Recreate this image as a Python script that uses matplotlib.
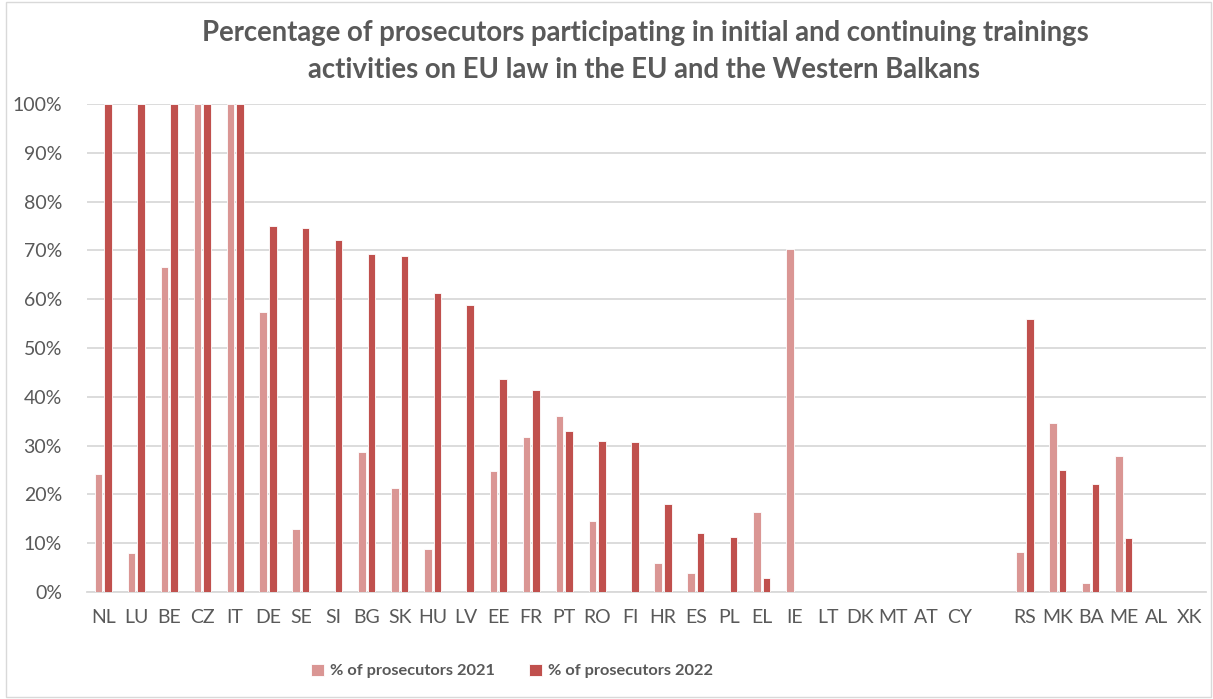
import matplotlib
matplotlib.use("Agg")
import matplotlib.pyplot as plt
import numpy as np
from matplotlib.patches import Rectangle
from matplotlib.ticker import FuncFormatter

categories = ["NL", "LU", "BE", "CZ", "IT", "DE", "SE", "SI", "BG", "SK", "HU", "LV",
              "EE", "FR", "PT", "RO", "FI", "HR", "ES", "PL", "EL", "IE", "LT", "DK",
              "MT", "AT", "CY", "", "RS", "MK", "BA", "ME", "AL", "XK"]
pct_2021 = [24.2, 7.9, 66.7, 100, 100, 57.4, 13.0, 0, 28.6, 21.4, 8.9, 0,
            24.7, 31.8, 36.1, 14.6, 0, 6.0, 3.8, 0, 16.3, 70.2, 0, 0,
            0, 0, 0, 0, 8.1, 34.7, 1.8, 27.9, 0, 0]
pct_2022 = [100, 100, 100, 100, 100, 74.9, 74.6, 72.2, 69.3, 68.9, 61.3, 58.9,
            43.6, 41.3, 32.9, 30.9, 30.7, 18.1, 12.1, 11.3, 2.8, 0, 0, 0,
            0, 0, 0, 0, 55.9, 25.1, 22.2, 11.0, 0, 0]
labels = ["% of prosecutors 2021", "% of prosecutors 2022"]

c21 = "#DA9694"
c22 = "#C0504D"
txt = "#595959"
FONT = "Lato"

fig = plt.figure(figsize=(12.13, 6.99), dpi=100)
ax = fig.add_axes([87/1213, 1-592/699, (1206-87)/1213, (592-104)/699])

x = np.arange(len(categories))
w = 0.23
v21 = np.array(pct_2021) / 100
v22 = np.array(pct_2022) / 100
ax.bar(x - 0.145, v21, width=w, color=c21, edgecolor="white", linewidth=0.6, label=labels[0], zorder=3)
ax.bar(x + 0.145, v22, width=w, color=c22, edgecolor="white", linewidth=0.6, label=labels[1], zorder=3)

ax.set_xlim(-0.5, len(categories) - 0.5)
ax.set_ylim(0, 1.0)
ax.set_yticks(np.arange(0, 1.01, 0.1))
ax.yaxis.set_major_formatter(FuncFormatter(lambda v, p: f"{v*100:.0f}%"))
ax.set_xticks(x)
ax.set_xticklabels(categories)
ax.grid(axis="y", color="#D9D9D9", linewidth=1.3, zorder=0)
for s in ["top", "right", "left"]:
    ax.spines[s].set_visible(False)
ax.spines["bottom"].set_color("#D9D9D9")
ax.spines["bottom"].set_linewidth(1.3)
ax.tick_params(axis="both", length=0, colors=txt, labelsize=14)
ax.tick_params(axis="y", pad=18)
ax.tick_params(axis="x", pad=12)
for t in ax.get_xticklabels() + ax.get_yticklabels():
    t.set_fontfamily(FONT)
    t.set_color(txt)

fig.text(0.532, 1-33/699, "Percentage of prosecutors participating in initial and continuing trainings",
         ha="center", va="center", fontsize=19.8, fontweight="bold", color=txt, family=FONT)
fig.text(0.531, 1-70/699, "activities on EU law in the EU and the Western Balkans",
         ha="center", va="center", fontsize=19.8, fontweight="bold", color=txt, family=FONT)

leg = fig.legend(loc="center", bbox_to_anchor=(512/1213, 1-671/699), ncol=2, frameon=False,
                 prop={"family": FONT, "weight": "bold", "size": 11.8},
                 handlelength=0.8, handleheight=0.8, handletextpad=0.35, columnspacing=2.1)
for t in leg.get_texts():
    t.set_color(txt)

fig.patches.append(Rectangle((6/1213, 0.003), 1-8/1213, 0.994, transform=fig.transFigure,
                             fill=False, edgecolor="#D9D9D9", linewidth=1))

fig.savefig("out.png", dpi=100)
